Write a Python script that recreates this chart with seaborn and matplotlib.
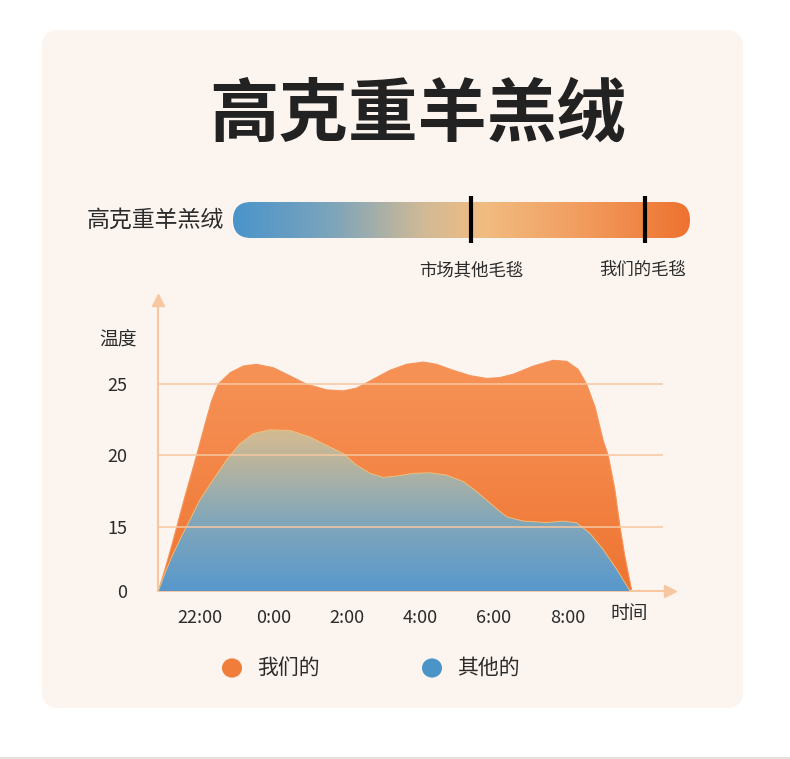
import numpy as np
import matplotlib.pyplot as plt
import seaborn as sns
from matplotlib.colors import LinearSegmentedColormap
from matplotlib.patches import FancyBboxPatch, Rectangle

# ========== data (hours after 22:00) ==========
ours_h = [-1.13, -0.95, -0.77, -0.63, -0.41, -0.09, 0.14, 0.32, 0.50, 0.82, 1.18, 1.54,
          2.00, 2.45, 2.90, 3.45, 3.90, 4.26, 4.72, 5.17, 5.62, 6.08, 6.44, 6.89,
          7.35, 7.80, 8.16, 8.53, 9.07, 9.61, 9.98, 10.29, 10.52, 10.75, 10.97, 11.11,
          11.29, 11.43, 11.56, 11.75]
ours_t = [0, 5.06, 10.5, 15, 17.1, 20, 22.2, 23.84, 25, 25.8, 26.27, 26.39,
          26.15, 25.58, 25.0, 24.6, 24.53, 24.72, 25.35, 25.97, 26.39, 26.55, 26.39, 25.97,
          25.6, 25.4, 25.46, 25.7, 26.27, 26.67, 26.6, 26.04, 25, 23.4, 21.06, 20,
          17.6, 15, 8.2, 0]

other_h = [-1.13, -0.95, -0.76, -0.54, -0.37, -0.27, 0.0, 0.36, 0.73, 1.09, 1.45, 1.90,
           2.45, 2.99, 3.54, 3.90, 4.26, 4.63, 4.99, 5.35, 5.80, 6.26, 6.71, 7.17,
           7.53, 7.89, 8.16, 8.35, 8.80, 9.43, 9.89, 10.25, 10.61, 10.97, 11.34, 11.70]
other_t = [0, 4.13, 8.09, 12.05, 15, 15.5, 16.9, 18.3, 19.7, 20.83, 21.53, 21.8,
           21.76, 21.3, 20.6, 20.14, 19.33, 18.75, 18.47, 18.56, 18.75, 18.79, 18.63, 18.17,
           17.47, 16.67, 16.08, 15.7, 15.4, 15.3, 15.4, 15.28, 13.5, 9.7, 5.06, 0]

x_ticks = [0, 2, 4, 6, 8, 10]
x_labels = ["22:00", "0:00", "2:00", "4:00", "6:00", "8:00"]
y_ticks = [0, 15, 20, 25]

bar_marks = [0.521, 0.902]
bar_labels = ["市场其他毛毯", "我们的毛毯"]
legend_labels = ["我们的", "其他的"]

# ========== style ==========
sns.set_theme(style="white")
plt.rcParams['font.family'] = ['Noto Sans CJK SC', 'DejaVu Sans']

BG = "#FCF4EE"
AXC = "#F6C7A0"
TXT = "#2B2B2B"
ORANGE = "#F07D3A"
BLUE = "#4A94C8"

fig = plt.figure(figsize=(7.9, 7.59), dpi=100)
fig.patch.set_facecolor("white")

# card
card = FancyBboxPatch((42 / 790, 1 - 708 / 759), 701 / 790, 678 / 759,
                      boxstyle="round,pad=0,rounding_size=0.022",
                      transform=fig.transFigure, facecolor=BG, edgecolor="none", zorder=-10)
fig.add_artist(card)
fig.add_artist(Rectangle((0, 0), 1, 2 / 759, transform=fig.transFigure,
                         facecolor="#E4E0DC", edgecolor="none", zorder=-10))

# title
fig.text(418 / 790, 1 - 115 / 759, "高克重羊羔绒", ha="center", va="center",
         fontsize=50, fontweight="bold", color="#222222")

# ========== gradient bar ==========
bax = fig.add_axes([233 / 790, 1 - 250 / 759, 457 / 790, 60 / 759])
bax.set_xlim(0, 1)
bax.set_ylim(0, 1)
bax.axis("off")
bar_cmap = LinearSegmentedColormap.from_list(
    "bar", [(0, "#4A94CB"), (0.22, "#7EA5BA"), (0.42, "#D2BA96"), (0.55, "#F2BC80"),
            (0.78, "#F19A5C"), (1, "#EE7230")])
grad = np.linspace(0, 1, 400).reshape(1, -1)
im = bax.imshow(grad, cmap=bar_cmap, aspect="auto", extent=(0, 1, 0.2, 0.8), zorder=1)
cap = FancyBboxPatch((0, 0.2), 1, 0.6, boxstyle="round,pad=0,rounding_size=0.0394",
                     mutation_aspect=7.62, facecolor="none", edgecolor="none",
                     transform=bax.transData)
bax.add_patch(cap)
im.set_clip_path(cap)
for m in bar_marks:
    bax.plot([m, m], [0.12, 0.9], color="black", lw=3, solid_capstyle="butt", zorder=3)
fig.text(87 / 790, 1 - 220 / 759, "高克重羊羔绒", ha="left", va="center",
         fontsize=16.5, color=TXT)
fig.text(471 / 790, 1 - 270 / 759, bar_labels[0], ha="center", va="center",
         fontsize=12.5, color=TXT)
fig.text(643 / 790, 1 - 270 / 759, bar_labels[1], ha="center", va="center",
         fontsize=12.5, color=TXT)

# ========== area chart ==========
def fwd(v):
    v = np.asarray(v, dtype=float)
    return np.where(v < 15, v * 0.3, v - 10.5)

def inv(u):
    u = np.asarray(u, dtype=float)
    return np.where(u < 4.5, u / 0.3, u + 10.5)

ax = fig.add_axes([158 / 790, 1 - 591 / 759, 512.4 / 790, 291 / 759])
ax.set_facecolor("none")
ax.set_yscale("function", functions=(fwd, inv))
ax.set_xlim(-1.14, 12.8)
ax.set_ylim(0, 30.9)

def grad_fill(x, y, colors, top, z):
    poly = ax.fill_between(x, 0, y, color="none", lw=0, zorder=z)
    cmap = LinearSegmentedColormap.from_list("g", colors)
    img = ax.imshow(np.linspace(1, 0, 256).reshape(-1, 1), cmap=cmap, aspect="auto",
                    extent=(0, 1, 0, top), transform=ax.transAxes, zorder=z)
    img.set_clip_path(poly.get_paths()[0], transform=ax.transData)

grad_fill(ours_h, ours_t, ["#EE7430", "#F4884A", "#F8975C"], 0.935, 2)
grad_fill(other_h, other_t, ["#5898CC", "#86A8B8", "#CDB994", "#F2C47C"], 0.775, 3)

sns.lineplot(x=ours_h, y=ours_t, color="#F6945A", lw=0.8, ax=ax, zorder=2.5, sort=False)
sns.lineplot(x=other_h, y=other_t, color="#F2C47C", lw=0.6, ax=ax, zorder=3.5, sort=False)

ax.hlines([15, 20, 25], -1.14, 12.6, color=AXC, lw=1.3, alpha=0.85, zorder=4)

for s in ["top", "right"]:
    ax.spines[s].set_visible(False)
for s in ["left", "bottom"]:
    ax.spines[s].set_color(AXC)
    ax.spines[s].set_linewidth(1.5)
ax.plot(1, 0, ">", color=AXC, ms=8, transform=ax.transAxes, clip_on=False, zorder=5)
ax.plot(0, 1, "^", color=AXC, ms=8, transform=ax.transAxes, clip_on=False, zorder=5)

ax.set_xticks(x_ticks)
ax.set_xticklabels(x_labels)
ax.set_yticks(y_ticks)
ax.set_yticklabels([str(t) for t in y_ticks])
ax.yaxis.set_minor_locator(plt.NullLocator())
ax.tick_params(axis="both", length=0, labelsize=13, colors=TXT)
ax.tick_params(axis="x", pad=13)
ax.tick_params(axis="y", pad=22)
ax.set_xlabel("")
ax.set_ylabel("")

fig.text(118 / 790, 1 - 340 / 759, "温度", ha="center", va="center", fontsize=13.5, color=TXT)
fig.text(629 / 790, 1 - 613 / 759, "时间", ha="center", va="center", fontsize=13.5, color=TXT)

# legend
for cx, col, lab in zip([232, 432], [ORANGE, BLUE], legend_labels):
    fig.add_artist(plt.Circle((cx / 790, 1 - 668 / 759), 10 / 790, transform=fig.transFigure,
                              facecolor=col, edgecolor="none"))
    fig.text((cx + 25) / 790, 1 - 668 / 759, lab, ha="left", va="center",
             fontsize=15, color=TXT)

fig.savefig("out.png", dpi=100, facecolor="white")
